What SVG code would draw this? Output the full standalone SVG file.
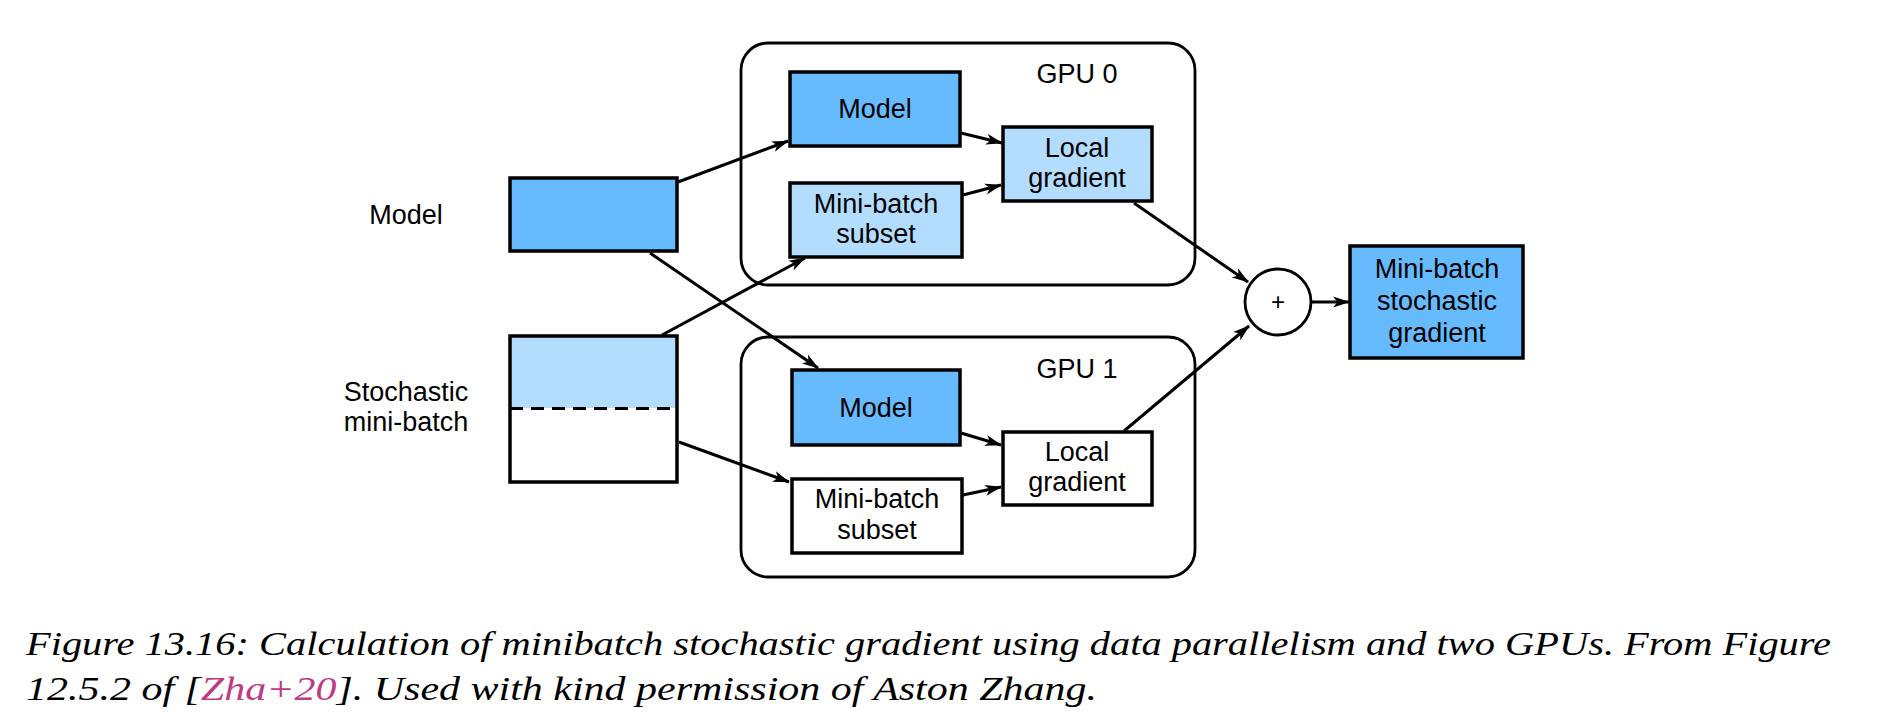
<svg xmlns="http://www.w3.org/2000/svg" width="1886" height="724" viewBox="0 0 1886 724">
<style>
.box{stroke:#000;stroke-width:3.5}
.dark{fill:#66BBFF}
.light{fill:#B3DDFF}
.white{fill:#fff}
.gpu{fill:none;stroke:#000;stroke-width:2.8}
.t{font-family:"Liberation Sans",Arial,sans-serif;font-size:27px;fill:#000;text-anchor:middle}
.conn line{stroke:#000;stroke-width:3;marker-end:url(#arr)}
.cap{font-family:"Liberation Serif","Times New Roman",serif;font-style:italic;font-size:33px;fill:#000}
</style>
<defs>
<marker id="arr" markerUnits="userSpaceOnUse" markerWidth="17" markerHeight="12" refX="16" refY="6" orient="auto">
<path d="M0,0.5 L17,6 L0,11.5 L4.5,6 z" fill="#000"/>
</marker>
</defs>
<rect width="1886" height="724" fill="#fff"/>

<g id="gpu0">
<rect class="gpu" x="741" y="43" width="454" height="242" rx="27"/>
<text class="t" x="1077" y="83">GPU 0</text>
</g>
<g id="gpu1">
<rect class="gpu" x="741" y="337" width="454" height="240" rx="27"/>
<text class="t" x="1077" y="378">GPU 1</text>
</g>

<g id="model-in">
<text class="t" x="406" y="224">Model</text>
<rect class="box dark" x="510" y="178" width="167" height="73"/>
</g>
<g id="minibatch-in">
<text class="t" x="406" y="401">Stochastic</text>
<text class="t" x="406" y="431">mini-batch</text>
<rect x="510" y="336" width="167" height="72" class="light"/>
<rect x="510" y="408" width="167" height="74" class="white"/>
<line x1="510" y1="408.5" x2="677" y2="408.5" stroke="#000" stroke-width="3" stroke-dasharray="13,8"/>
<rect x="510" y="336" width="167" height="146" fill="none" stroke="#000" stroke-width="3.5"/>
</g>

<g id="gpu0-model">
<rect class="box dark" x="790" y="72" width="170" height="74"/>
<text class="t" x="875" y="118">Model</text>
</g>
<g id="gpu0-subset">
<rect class="box light" x="790" y="183" width="172" height="74"/>
<text class="t" x="876" y="213">Mini-batch</text>
<text class="t" x="876" y="243">subset</text>
</g>
<g id="gpu0-grad">
<rect class="box light" x="1003" y="127" width="149" height="74"/>
<text class="t" x="1077" y="157">Local</text>
<text class="t" x="1077" y="187">gradient</text>
</g>

<g id="gpu1-model">
<rect class="box dark" x="792" y="370" width="168" height="75"/>
<text class="t" x="876" y="417">Model</text>
</g>
<g id="gpu1-subset">
<rect class="box white" x="792" y="479" width="170" height="74"/>
<text class="t" x="877" y="508">Mini-batch</text>
<text class="t" x="877" y="539">subset</text>
</g>
<g id="gpu1-grad">
<rect class="box white" x="1003" y="432" width="149" height="73"/>
<text class="t" x="1077" y="461">Local</text>
<text class="t" x="1077" y="491">gradient</text>
</g>

<g id="sum">
<circle cx="1278" cy="302" r="33" fill="#fff" stroke="#000" stroke-width="2.8"/>
<text class="t" x="1278" y="310" style="font-size:24px">+</text>
</g>
<g id="output">
<rect class="box dark" x="1350" y="246" width="173" height="112"/>
<text class="t" x="1437" y="278">Mini-batch</text>
<text class="t" x="1437" y="310">stochastic</text>
<text class="t" x="1437" y="342">gradient</text>
</g>

<g id="connectors" class="conn">
<line x1="678" y1="182" x2="788" y2="141"/>
<line x1="650" y1="253" x2="818" y2="368"/>
<line x1="662" y1="335" x2="805" y2="258"/>
<line x1="679" y1="442" x2="789" y2="482"/>
<line x1="961" y1="133" x2="1002" y2="143"/>
<line x1="963" y1="195" x2="1001" y2="185"/>
<line x1="961" y1="433" x2="1001" y2="445"/>
<line x1="963" y1="495" x2="1001" y2="487"/>
<line x1="1134" y1="203" x2="1248" y2="282"/>
<line x1="1124" y1="431" x2="1249" y2="326"/>
<line x1="1311" y1="302" x2="1349" y2="302"/>
</g>

<g id="caption">
<text class="cap" x="26" y="655" textLength="1805" lengthAdjust="spacingAndGlyphs">Figure 13.16: Calculation of minibatch stochastic gradient using data parallelism and two GPUs. From Figure</text>
<text class="cap" x="26" y="700" textLength="1071" lengthAdjust="spacingAndGlyphs">12.5.2 of [<tspan fill="#BF3A84">Zha+20</tspan>]. Used with kind permission of Aston Zhang.</text>
</g>
</svg>
